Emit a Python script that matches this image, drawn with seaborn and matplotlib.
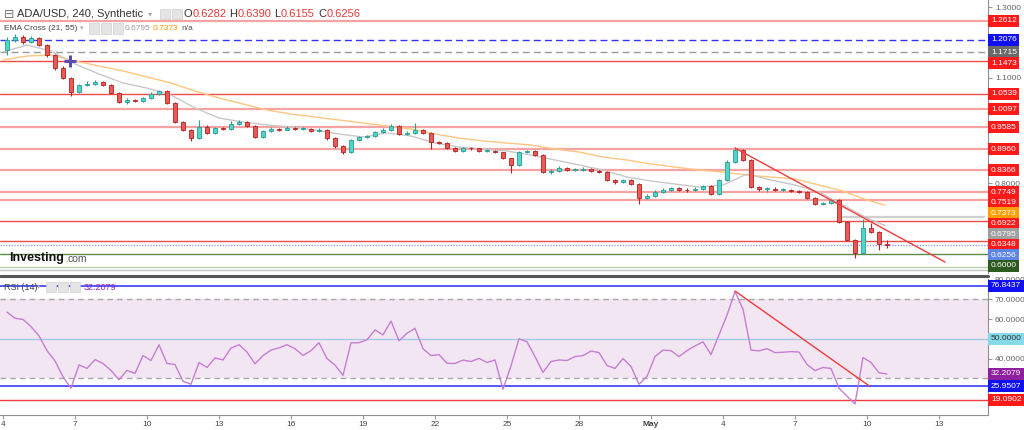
import numpy as np
import pandas as pd
import matplotlib
matplotlib.use('Agg')
import matplotlib.pyplot as plt
import matplotlib.dates as mdates
from matplotlib.lines import Line2D
from matplotlib.patches import Rectangle
import seaborn as sns

sns.set_style('white')
plt.rcParams['font.family'] = ['Liberation Sans', 'DejaVu Sans']

# ---- data (8h candles, ADA/USD) ----
candle_time = pd.date_range('2022-04-04 04:00', periods=111, freq='8h')
first_open = 1.1786
closes = [1.2070, 1.2155, 1.2013, 1.2127, 1.1928, 1.1644, 1.1274, 1.0990, 1.0592, 1.0791,
          1.0819, 1.0876, 1.0791, 1.0563, 1.0307, 1.0364, 1.0340, 1.0421, 1.0535, 1.0620,
          1.0279, 0.9739, 0.9511, 0.9284, 0.9597, 0.9426, 0.9568, 0.9540, 0.9682, 0.9739,
          0.9625, 0.9312, 0.9483, 0.9540, 0.9520, 0.9568, 0.9540, 0.9550, 0.9483, 0.9511,
          0.9284, 0.9056, 0.8886, 0.9227, 0.9312, 0.9341, 0.9454, 0.9511, 0.9625, 0.9398,
          0.9426, 0.9511, 0.9426, 0.9170, 0.9142, 0.9000, 0.8914, 0.9000, 0.8990, 0.8914,
          0.8920, 0.8886, 0.8715, 0.8516, 0.8886, 0.8914, 0.8801, 0.8317, 0.8346, 0.8431,
          0.8374, 0.8380, 0.8403, 0.8346, 0.8317, 0.8090, 0.8033, 0.8090, 0.7976, 0.7578,
          0.7635, 0.7749, 0.7806, 0.7862, 0.7806, 0.7800, 0.7834, 0.7919, 0.7692, 0.8090,
          0.8602, 0.8943, 0.8658, 0.7891, 0.7834, 0.7840, 0.7806, 0.7810, 0.7777, 0.7749,
          0.7578, 0.7408, 0.7436, 0.7521, 0.6896, 0.6384, 0.6014, 0.6725, 0.6611, 0.6282,
          0.6256]
highs = [1.2150, 1.2230, 1.2200, 1.2180, 1.2150, 1.1960, 1.1680, 1.1330, 1.1020, 1.0830,
         1.0900, 1.0930, 1.0910, 1.0830, 1.0590, 1.0410, 1.0400, 1.0460, 1.0580, 1.0660,
         1.0650, 1.0310, 0.9770, 0.9540, 0.9790, 0.9640, 0.9600, 0.9610, 0.9760, 0.9790,
         0.9770, 0.9650, 0.9510, 0.9600, 0.9580, 0.9620, 0.9590, 0.9590, 0.9570, 0.9580,
         0.9540, 0.9310, 0.9080, 0.9260, 0.9350, 0.9380, 0.9490, 0.9560, 0.9680, 0.9650,
         0.9470, 0.9700, 0.9540, 0.9450, 0.9200, 0.9170, 0.9030, 0.9040, 0.9030, 0.9010,
         0.8960, 0.8940, 0.8900, 0.8730, 0.8920, 0.8950, 0.8940, 0.8830, 0.8390, 0.8480,
         0.8460, 0.8420, 0.8460, 0.8430, 0.8370, 0.8340, 0.8110, 0.8130, 0.8110, 0.8000,
         0.7680, 0.7800, 0.7870, 0.7900, 0.7890, 0.7850, 0.7880, 0.7960, 0.7940, 0.8130,
         0.8650, 0.9029, 0.8970, 0.8680, 0.7930, 0.7890, 0.7880, 0.7850, 0.7830, 0.7800,
         0.7770, 0.7600, 0.7470, 0.7560, 0.7540, 0.6920, 0.6410, 0.6990, 0.6880, 0.6640,
         0.6390]
lows = [1.1650, 1.2010, 1.1960, 1.1990, 1.1890, 1.1600, 1.1230, 1.0950, 1.0470, 1.0560,
        1.0760, 1.0790, 1.0760, 1.0530, 1.0270, 1.0260, 1.0300, 1.0310, 1.0400, 1.0500,
        1.0240, 0.9700, 0.9470, 0.9200, 0.9250, 0.9390, 0.9400, 0.9500, 0.9520, 0.9650,
        0.9590, 0.9280, 0.9290, 0.9460, 0.9490, 0.9500, 0.9510, 0.9500, 0.9450, 0.9460,
        0.9240, 0.9010, 0.8830, 0.8870, 0.9200, 0.9290, 0.9320, 0.9430, 0.9480, 0.9360,
        0.9370, 0.9400, 0.9400, 0.8960, 0.9110, 0.8970, 0.8880, 0.8890, 0.8950, 0.8880,
        0.8880, 0.8850, 0.8680, 0.8290, 0.8490, 0.8860, 0.8770, 0.8280, 0.8250, 0.8320,
        0.8340, 0.8340, 0.8360, 0.8310, 0.8280, 0.8050, 0.7990, 0.8010, 0.7940, 0.7420,
        0.7540, 0.7610, 0.7720, 0.7780, 0.7770, 0.7760, 0.7780, 0.7810, 0.7650, 0.7670,
        0.8060, 0.8570, 0.8620, 0.7850, 0.7790, 0.7750, 0.7770, 0.7770, 0.7740, 0.7720,
        0.7550, 0.7380, 0.7390, 0.7400, 0.6860, 0.6350, 0.5872, 0.5990, 0.6580, 0.6100,
        0.6155]

# EMA Cross (21, 55), one reading per day
ema_time = list(pd.date_range('2022-04-04', '2022-05-10', freq='D')) + [pd.Timestamp('2022-05-10 18:00')]
ema21 = [1.1729, 1.1928, 1.1757, 1.1388, 1.1103, 1.0848, 1.0705, 1.0506, 1.0137, 0.9852,
         0.9739, 0.9654, 0.9597, 0.9511, 0.9398, 0.9312, 0.9426, 0.9341, 0.9142, 0.9028,
         0.8971, 0.8914, 0.8801, 0.8659, 0.8517, 0.8374, 0.8175, 0.8061, 0.7976, 0.7891,
         0.7948, 0.8260, 0.8090, 0.7948, 0.7749, 0.7379, 0.7010, 0.6795]
ema55 = [1.1501, 1.1615, 1.1644, 1.1473, 1.1331, 1.1189, 1.1018, 1.0848, 1.0620, 1.0421,
         1.0250, 1.0080, 0.9966, 0.9881, 0.9796, 0.9710, 0.9625, 0.9540, 0.9398, 0.9284,
         0.9199, 0.9142, 0.9085, 0.8971, 0.8886, 0.8744, 0.8659, 0.8545, 0.8459, 0.8374,
         0.8317, 0.8232, 0.8175, 0.8118, 0.7948, 0.7777, 0.7521, 0.7373]

# RSI (14) at each candle
rsi = [63.5, 60.4, 59.8, 56.2, 51.5, 44.0, 38.8, 30.8, 25.0, 36.8,
       35.0, 39.5, 37.5, 34.0, 29.3, 34.0, 32.5, 41.5, 39.0, 47.0,
       37.5, 37.0, 28.5, 27.0, 38.0, 35.5, 40.3, 39.3, 45.3, 47.0,
       43.3, 37.3, 41.5, 44.3, 45.4, 47.0, 45.0, 41.6, 44.0, 48.0,
       40.0, 36.7, 31.5, 48.0, 48.0, 49.5, 54.5, 52.0, 59.0, 49.0,
       52.8, 55.3, 45.0, 41.5, 42.0, 37.6, 37.5, 39.2, 38.5, 40.1,
       38.0, 39.3, 24.5, 36.3, 50.0, 48.5, 41.0, 33.0, 38.5, 39.3,
       39.0, 41.0, 41.5, 43.8, 43.0, 36.5, 35.0, 40.0, 36.0, 27.0,
       31.0, 41.0, 44.3, 44.0, 41.0, 44.0, 46.4, 48.5, 42.0, 52.0,
       62.0, 73.9, 65.0, 44.3, 43.9, 45.0, 43.0, 43.2, 43.5, 43.3,
       37.0, 33.9, 35.5, 35.0, 25.0, 21.0, 17.0, 40.5, 38.0, 32.8,
       32.2079]

# horizontal levels drawn on the price pane
strong_levels = [1.1473, 1.0539, 0.6922, 0.6348]
light_levels = [1.2612, 1.0097, 0.9585, 0.8960, 0.8366, 0.7749, 0.7519]
blue_dash_level = 1.2076
gray_dash_level = 1.1715
support_level = 0.6000
last_price = 0.6256
gray_ray = 0.7038
price_trend = ([pd.Timestamp('2022-05-04 12:00'), pd.Timestamp('2022-05-13 06:00')], [0.8999, 0.5759])
rsi_trend = ([pd.Timestamp('2022-05-04 12:00'), pd.Timestamp('2022-05-10 02:00')], [74.2, 26.25])
rsi_levels = {'76.8437': 76.8437, '25.9507': 25.9507, '19.0902': 19.0902}

tick_days = pd.to_datetime(['2022-04-04', '2022-04-07', '2022-04-10', '2022-04-13', '2022-04-16',
                            '2022-04-19', '2022-04-22', '2022-04-25', '2022-04-28', '2022-05-01',
                            '2022-05-04', '2022-05-07', '2022-05-10', '2022-05-13'])
tick_labels = ['4', '7', '10', '13', '16', '19', '22', '25', '28', 'May', '4', '7', '10', '13']

# ---- figure ----
W, H = 1024, 430
fig = plt.figure(figsize=(W / 100, H / 100), dpi=100)


def fx(x):
    return x / W


def fy(y):
    return 1 - y / H


ax = fig.add_axes([0, fy(273), 988 / W, 273 / H])
ax2 = fig.add_axes([0, fy(415), 988 / W, (415 - 279) / H], sharex=ax)

t = mdates.date2num(candle_time)
c = np.array(closes)
o = np.array([first_open] + closes[:-1])
up = c >= o
edge = np.where(up, '#2a9d8f', '#b22222')
fill = np.where(up, '#4fd6cc', '#ea5a55')

# price levels
for lv in strong_levels:
    ax.axhline(lv, color='#f04a4a', lw=1.0, zorder=1)
for lv in light_levels:
    ax.axhline(lv, color='#f7a3a3', lw=1.6, zorder=1)
ax.axhline(blue_dash_level, color='#3030ff', lw=1.0, ls=(0, (5, 3)), zorder=1)
ax.axhline(gray_dash_level, color='#9a9a9a', lw=1.0, ls=(0, (5, 3)), zorder=1)
ax.axhline(support_level, color='#5b8a4a', lw=1.0, zorder=1)
ax.axhline(0.5617, color='#b9d0ad', lw=1.0, zorder=1)
ax.axhline(0.5521, color='#c4c4c4', lw=1.0, zorder=1)
ax.axhline(last_price, color='#8ea6ea', lw=1.0, ls=(0, (1, 1)), zorder=1)
ax.plot([mdates.date2num(pd.Timestamp('2022-05-08 19:00')), mdates.date2num(pd.Timestamp('2022-05-14 21:00'))],
        [gray_ray, gray_ray], color='#cfcfcf', lw=1.6, zorder=1)

# EMA lines
ema_df = pd.DataFrame({'time': ema_time, 'ema21': ema21, 'ema55': ema55})
sns.lineplot(data=ema_df, x='time', y='ema55', ax=ax, color='#ffc680', lw=1.0, zorder=2)
sns.lineplot(data=ema_df, x='time', y='ema21', ax=ax, color='#c8c8c8', lw=1.0, zorder=2)

# candles
ax.vlines(t, lows, highs, colors=edge, lw=0.8, zorder=3)
body = np.maximum(np.abs(c - o), 0.002)
ax.bar(t, body, bottom=np.minimum(o, c), width=0.19, color=fill, edgecolor=edge, lw=0.6, zorder=4)

ax.plot(mdates.date2num([pd.Timestamp(d) for d in price_trend[0]]), price_trend[1], color='#f23b3b', lw=1.0, zorder=5)
ax.plot(mdates.date2num(pd.Timestamp('2022-04-06 19:00')), 1.1473, marker='+', ms=8, mew=2.2,
        color='#5a4db0', zorder=6)

ax.set_ylim(0.5447, 1.3207)
ax.set_xlim(mdates.date2num(pd.Timestamp('2022-04-03 21:00')), mdates.date2num(pd.Timestamp('2022-05-15 01:00')))

# RSI pane
ax2.axhspan(30, 70, color='#f3e6f3', lw=0, zorder=0)
ax2.axhline(70, color='#a8a8a8', lw=1.0, ls=(0, (4, 3)))
ax2.axhline(30, color='#a8a8a8', lw=1.0, ls=(0, (4, 3)))
ax2.axhline(50, color='#a3cbe8', lw=1.0)
ax2.axhline(rsi_levels['76.8437'], color='#3a3aff', lw=1.2)
ax2.axhline(rsi_levels['25.9507'], color='#3a3aff', lw=1.2)
ax2.axhline(rsi_levels['19.0902'], color='#f23b3b', lw=1.0)
rsi_df = pd.DataFrame({'time': candle_time, 'rsi': rsi})
sns.lineplot(data=rsi_df, x='time', y='rsi', ax=ax2, color='#c77dd3', lw=1.0)
ax2.plot(mdates.date2num([pd.Timestamp(d) for d in rsi_trend[0]]), rsi_trend[1], color='#f23b3b', lw=1.0)
ax2.set_ylim(11.42, 80.28)

# axes cosmetics
for a in (ax, ax2):
    a.set_xlabel('')
    a.set_ylabel('')
    for s in ('left', 'top'):
        a.spines[s].set_visible(False)
    a.spines['right'].set_color('#8f8f8f')
    a.yaxis.tick_right()
    a.tick_params(axis='y', length=3, width=0.8, color='#999999', labelsize=6, labelcolor='#666666', pad=2)
ax.spines['bottom'].set_visible(False)
ax2.spines['bottom'].set_color('#8f8f8f')
ax.tick_params(axis='x', bottom=False, labelbottom=False)
ax.set_yticks([1.3, 1.1, 0.8])
ax.set_yticklabels(['1.3000', '1.1000', '0.8000'])
ax2.set_yticks([80, 70, 60, 40])
ax2.set_yticklabels(['80.0000', '70.0000', '60.0000', '40.0000'])
ax2.set_xticks(mdates.date2num(tick_days))
ax2.set_xticklabels(tick_labels)
ax2.tick_params(axis='x', length=3, width=0.8, color='#999999', labelsize=6, labelcolor='#444444', pad=1,
                bottom=True)
for lab in ax2.get_xticklabels():
    if lab.get_text() == 'May':
        lab.set_fontweight('bold')


def price_tags(axis, tags, gap):
    # stack the value boxes on the right scale so they do not overlap
    pos = None
    for value, text, bg, fg in tags:
        pos = value if pos is None else min(value, pos - gap)
        axis.text(1.003, pos, text, transform=axis.get_yaxis_transform(), ha='left', va='center',
                  fontsize=6, color=fg, clip_on=False, zorder=10,
                  bbox=dict(boxstyle='square,pad=0.3', fc=bg, ec='none'))


red = '#ff1a1a'
price_tags(ax, [(1.2612, '1.2612', red, 'white'),
                (1.2076, '1.2076', '#1010f0', 'white'),
                (1.1715, '1.1715', '#6a6a6a', 'white'),
                (1.1473, '1.1473', red, 'white'),
                (1.0539, '1.0539', red, 'white'),
                (1.0097, '1.0097', red, 'white'),
                (0.9585, '0.9585', red, 'white'),
                (0.8960, '0.8960', red, 'white'),
                (0.8366, '0.8366', red, 'white'),
                (0.7749, '0.7749', red, 'white'),
                (0.7519, '0.7519', red, 'white'),
                (ema55[-1], '0.7373', '#ffa000', 'white'),
                (0.6922, '0.6922', red, 'white'),
                (ema21[-1], '0.6795', '#a0a0a0', 'white'),
                (0.6348, '0.6348', red, 'white'),
                (last_price, '0.6256', '#5f86e6', 'white'),
                (support_level, '0.6000', '#2d5a1e', 'white')], 0.0300)
price_tags(ax2, [(76.8437, '76.8437', '#1010f0', 'white'),
                 (50.0, '50.0000', '#86d9e8', '#333333'),
                 (rsi[-1], '32.2079', '#8e1f9e', 'white'),
                 (25.9507, '25.9507', '#1010f0', 'white'),
                 (19.0902, '19.0902', red, 'white')], 5.3)

# pane separator
fig.add_artist(Line2D([0, 988 / W], [fy(275.5), fy(275.5)], color='#555555', lw=2.2))


# header texts
def icons(x0, y0, n):
    for k in range(n):
        fig.add_artist(Rectangle((fx(x0 + k * 12), fy(y0 + 5)), 10 / W, 10 / H, fc='#e4e4e4', ec='#d0d0d0', lw=0.5))


fig.text(fx(4), fy(14), '⊟', fontsize=9, color='#777777', va='center', family=['DejaVu Sans'])
fig.text(fx(17), fy(14), 'ADA/USD, 240, Synthetic', fontsize=8, color='#333333', va='center')
fig.text(fx(148), fy(14), '▾', fontsize=6, color='#aaaaaa', va='center', family=['DejaVu Sans'])
icons(160, 14, 2)
for x0, letter, gap, val in [(184, 'O', 9, '0.6282'), (229, 'H', 8.5, '0.6390'),
                             (274, 'L', 6.5, '0.6155'), (318, 'C', 8.5, '0.6256')]:
    fig.text(fx(x0), fy(14), letter, fontsize=8, color='#333333', va='center')
    fig.text(fx(x0 + gap), fy(14), val, fontsize=8, color='#e53935', va='center')

fig.text(fx(4), fy(28.5), 'EMA Cross (21, 55)', fontsize=6, color='#444444', va='center')
fig.text(fx(80), fy(28.5), '▾', fontsize=5, color='#aaaaaa', va='center', family=['DejaVu Sans'])
icons(89, 28.5, 3)
fig.text(fx(125), fy(28.5), '0.6795', fontsize=6, color='#9a9a9a', va='center')
fig.text(fx(153), fy(28.5), '0.7373', fontsize=6, color='#ff9800', va='center')
fig.text(fx(181), fy(28.5), 'n/a', fontsize=6, color='#555555', va='center')

fig.text(fx(4), fy(287), 'RSI (14)', fontsize=6.5, color='#444444', va='center')
fig.text(fx(37), fy(287), '▾', fontsize=5, color='#aaaaaa', va='center', family=['DejaVu Sans'])
icons(46, 287, 3)
fig.text(fx(84), fy(287), '32.2079', fontsize=6.5, color='#9c27b0', va='center')

fig.text(fx(9), fy(258), 'Investing', fontsize=9, fontweight='bold', color='#111111', va='center')
fig.text(fx(65), fy(258.5), '.', fontsize=8, fontweight='bold', color='#f5a623', va='center')
fig.text(fx(68), fy(259), 'com', fontsize=7.5, color='#555555', va='center')

fig.savefig('out.png', dpi=100, facecolor='white')
